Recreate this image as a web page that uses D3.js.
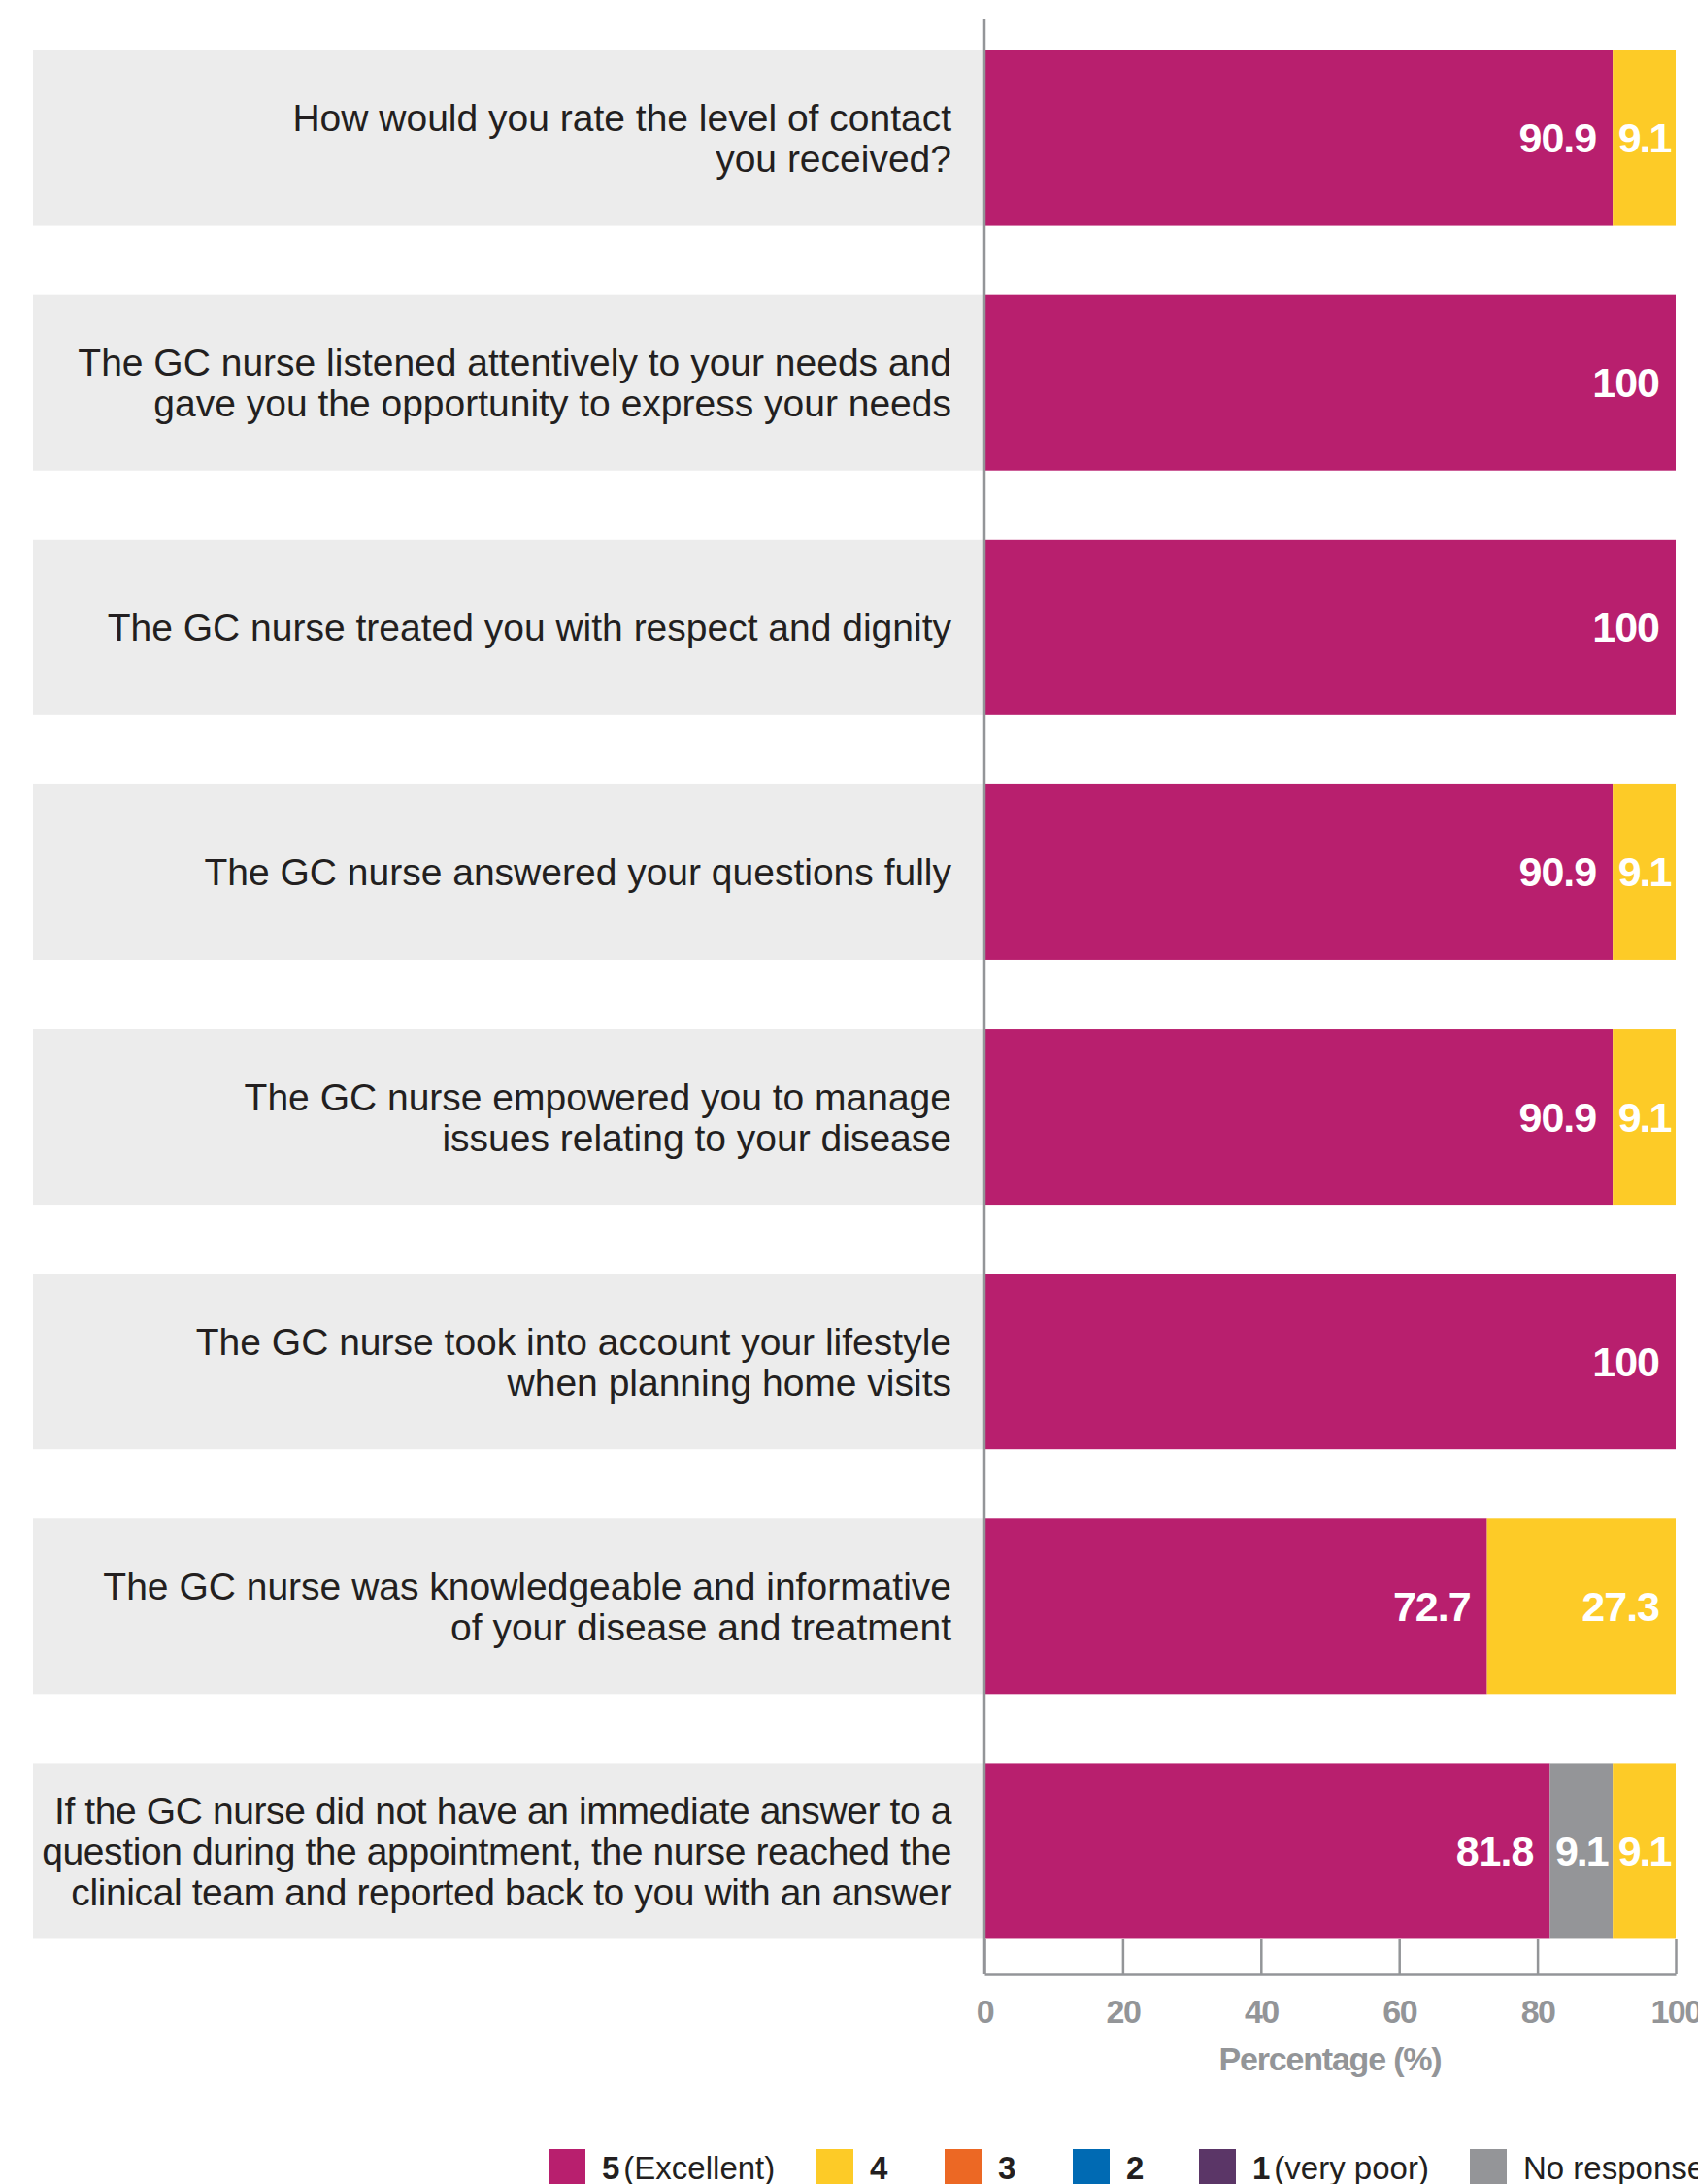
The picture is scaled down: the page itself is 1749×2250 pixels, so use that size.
<!DOCTYPE html>
<html>
<head>
<meta charset="utf-8">
<script src="https://cdn.jsdelivr.net/npm/d3@7/dist/d3.min.js"></script>
<style>
  html, body { margin: 0; padding: 0; background: #ffffff; }
  svg { display: block; font-family: "Liberation Sans", Arial, Helvetica, sans-serif; }
</style>
</head>
<body>
<svg id="chart" width="1749" height="2250"></svg>
<script>
// ---------- DATA ----------
const questions = [
  ["How would you rate the level of contact", "you received?"],
  ["The GC nurse listened attentively to your needs and", "gave you the opportunity to express your needs"],
  ["The GC nurse treated you with respect and dignity"],
  ["The GC nurse answered your questions fully"],
  ["The GC nurse empowered you to manage", "issues relating to your disease"],
  ["The GC nurse took into account your lifestyle", "when planning home visits"],
  ["The GC nurse was knowledgeable and informative", "of your disease and treatment"],
  ["If the GC nurse did not have an immediate answer to a", "question during the appointment, the nurse reached the", "clinical team and reported back to you with an answer"]
];
const score5 = [90.9, 100, 100, 90.9, 90.9, 100, 72.7, 81.8];
const score4 = [9.1, 0, 0, 9.1, 9.1, 0, 27.3, 9.1];
const score3 = [0, 0, 0, 0, 0, 0, 0, 0];
const score2 = [0, 0, 0, 0, 0, 0, 0, 0];
const score1 = [0, 0, 0, 0, 0, 0, 0, 0];
const noResponse = [0, 0, 0, 0, 0, 0, 0, 9.1];

const xTicks = [0, 20, 40, 60, 80, 100];
const xTitle = "Percentage (%)";

// series: key, bold label part, regular label part, colour
const seriesKeys   = ["s5", "s4", "s3", "s2", "s1", "nr"];
const seriesBold   = ["5", "4", "3", "2", "1", ""];
const seriesNormal = ["(Excellent)", "", "", "", "(very poor)", "No response"];
const seriesColors = ["#B81F6E", "#FDCB27", "#EC6824", "#006AB3", "#5B3667", "#949598"];
// stacking order along the bar (as drawn in the reference)
const stackOrder = ["s5", "nr", "s4", "s3", "s2", "s1"];

// ---------- LAYOUT ----------
const axisX0 = 1014, axisX1 = 1726;
const plotTop = 16, plotBottom = 2033;
const labelRight = 980, boxLeft = 34;
const legendSwatchX = [565, 841, 973, 1105, 1235, 1514];

const rows = questions.map((q, i) => ({
  idx: i, q,
  s5: score5[i], s4: score4[i], s3: score3[i], s2: score2[i], s1: score1[i], nr: noResponse[i]
}));

const colorOf = d3.scaleOrdinal().domain(seriesKeys).range(seriesColors);

const svg = d3.select("#chart");

const x = d3.scaleLinear().domain([0, 100]).range([axisX0, axisX1]);
const y = d3.scaleBand().domain(d3.range(rows.length))
  .range([plotTop, plotBottom]).paddingInner(0.282).paddingOuter(0.141);

// background label boxes
svg.append("g").selectAll("rect").data(rows).join("rect")
  .attr("x", boxLeft).attr("width", axisX0 - boxLeft)
  .attr("y", d => y(d.idx)).attr("height", y.bandwidth())
  .attr("fill", "#ECECEC");

// question labels
const lineH = 42;
svg.append("g").selectAll("text").data(rows).join("text")
  .attr("text-anchor", "end")
  .attr("font-size", 39)
  .attr("fill", "#231F20")
  .each(function(d) {
    const n = d.q.length;
    const cy = y(d.idx) + y.bandwidth() / 2;
    d3.select(this).selectAll("tspan").data(d.q).join("tspan")
      .attr("x", labelRight)
      .attr("y", (t, j) => cy + (j - (n - 1) / 2) * lineH + 14)
      .attr("letter-spacing", n > 2 ? "-0.4" : "0")
      .text(t => t);
  });

// stacked bars
const stack = d3.stack().keys(stackOrder);
const stacked = stack(rows);

const segs = [];
stacked.forEach(layer => {
  layer.forEach(s => {
    if (s[1] - s[0] > 0) segs.push({ key: layer.key, x0: s[0], x1: s[1], v: s.data[layer.key], idx: s.data.idx });
  });
});

svg.append("g").selectAll("rect").data(segs).join("rect")
  .attr("x", d => x(d.x0))
  .attr("width", d => x(d.x1) - x(d.x0))
  .attr("y", d => y(d.idx))
  .attr("height", y.bandwidth())
  .attr("fill", d => colorOf(d.key));

// value labels
const wide = d => (x(d.x1) - x(d.x0)) > 100;
svg.append("g").selectAll("text").data(segs).join("text")
  .attr("font-size", 43)
  .attr("font-weight", "bold")
  .attr("letter-spacing", d => wide(d) ? "-1" : "-2")
  .attr("fill", "#ffffff")
  .attr("text-anchor", d => wide(d) ? "end" : "middle")
  .attr("x", d => wide(d) ? x(d.x1) - 17 : (x(d.x0) + x(d.x1)) / 2)
  .attr("y", d => y(d.idx) + y.bandwidth() / 2 + 15)
  .text(d => d3.format(".1~f")(d.v));

// vertical axis line
svg.append("line")
  .attr("x1", axisX0).attr("x2", axisX0)
  .attr("y1", 20).attr("y2", 2034)
  .attr("stroke", "#939598").attr("stroke-width", 2.5);

// bottom axis
const xAxis = d3.axisBottom(x).tickValues(xTicks).tickSizeInner(-36).tickSizeOuter(0).tickPadding(26)
  .tickFormat(d3.format("d"));
const gx = svg.append("g").attr("transform", `translate(0,2034)`).call(xAxis);
gx.select(".domain").attr("stroke", "#939598").attr("stroke-width", 2.5);
gx.selectAll(".tick line").attr("stroke", "#939598").attr("stroke-width", 2.5);
gx.selectAll(".tick text")
  .attr("fill", "#939598")
  .attr("font-size", 34)
  .attr("font-weight", "bold")
  .attr("letter-spacing", "-1.5")
  .attr("font-family", "'Liberation Sans', Arial, Helvetica, sans-serif");

svg.append("text")
  .attr("x", (axisX0 + axisX1) / 2)
  .attr("y", 2133)
  .attr("text-anchor", "middle")
  .attr("font-size", 34)
  .attr("font-weight", "bold")
  .attr("letter-spacing", "-1.2")
  .attr("fill", "#939598")
  .text(xTitle);

// legend
const legendData = seriesKeys.map((k, i) => ({ k, bold: seriesBold[i], normal: seriesNormal[i], sx: legendSwatchX[i] }));
const lg = svg.append("g").selectAll("g").data(legendData).join("g");
lg.append("rect")
  .attr("x", d => d.sx).attr("y", 2214)
  .attr("width", 38).attr("height", 38)
  .attr("fill", d => colorOf(d.k));
const lt = lg.append("text")
  .attr("x", d => d.sx + 55).attr("y", 2245)
  .attr("font-size", 33)
  .attr("fill", "#231F20");
lt.append("tspan").attr("font-weight", "bold").text(d => d.bold);
lt.append("tspan").attr("dx", d => d.bold && d.normal ? 4 : 0).text(d => d.normal);
</script>
</body>
</html>
